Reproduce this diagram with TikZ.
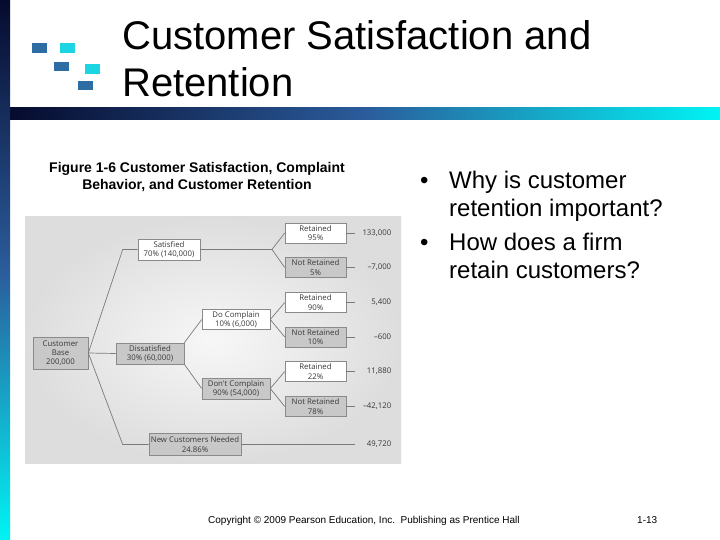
\documentclass[tikz,border=0pt]{standalone}
\usepackage{fontspec}
\setmainfont{Liberation Sans}
\newfontfamily\figfont{Open Sans}
\definecolor{navy}{HTML}{060B2E}
\definecolor{midblue}{HTML}{2B5C9B}
\definecolor{cyanbar}{HTML}{00F4F4}
\definecolor{sqdark}{HTML}{2E6DA4}
\definecolor{sqcyan}{HTML}{1BD5E2}
\definecolor{boxgray}{HTML}{C8C8C8}
\definecolor{boxline}{HTML}{8A8A8A}
\definecolor{linegray}{HTML}{7A7A7A}
\definecolor{figtext}{HTML}{383838}
\definecolor{bgout}{HTML}{DDDDDD}
\definecolor{bgin}{HTML}{F7F7F7}
\tikzset{
  treebox/.style={draw=boxline, line width=0.6pt, rectangle, align=center,
    font=\figfont\fontsize{7.8}{9.3}\selectfont, text=figtext, inner sep=0pt},
  graybox/.style={treebox, fill=boxgray},
  whitebox/.style={treebox, fill=white},
  leafbox/.style={minimum width=61pt, minimum height=20pt},
  branch/.style={draw=linegray, line width=0.7pt},
  valtext/.style={anchor=west, text width=34pt, align=right, inner xsep=2pt,
    inner ysep=0pt, font=\figfont\fontsize{7.8}{9.3}\selectfont, text=figtext},
  sqbox/.style={minimum width=15pt, minimum height=9.5pt, inner sep=0pt, anchor=north west},
  titletext/.style={anchor=base west, inner sep=0pt, font=\fontsize{40}{47}\selectfont},
  captext/.style={anchor=base, inner sep=0pt, font=\bfseries\fontsize{14}{16}\selectfont},
  bullettext/.style={anchor=base west, inner sep=0pt, font=\fontsize{24}{29}\selectfont},
  foottext/.style={anchor=base west, inner sep=0pt, font=\fontsize{10}{12}\selectfont},
}
\begin{document}
\begin{tikzpicture}[x=1pt,y=-1pt]
\useasboundingbox (0,0) rectangle (720,540);
\fill[white] (0,0) rectangle (720,540);
% decorative bars
\shade[left color=navy, right color=cyanbar, middle color=midblue] (10,108) rectangle (720,120);
\shade[top color=navy, bottom color=cyanbar, middle color=midblue] (0,0) rectangle (10,540);
% squares
\node[sqbox, fill=sqdark] (s1) at (32,43) {};
\node[sqbox, fill=sqcyan] (s2) at (60,43) {};
\node[sqbox, fill=sqdark] (s3) at (54,61.5) {};
\node[sqbox, fill=sqcyan] (s4) at (85,64) {};
\node[sqbox, fill=sqdark] (s5) at (78,80.5) {};
% title
\node[titletext] (t1) at (122,50) {Customer Satisfaction and};
\node[titletext] (t2) at (122,97) {Retention};
% caption
\node[captext] (c1) at (197,173) {Figure 1-6 Customer Satisfaction, Complaint};
\node[captext] (c2) at (197,190) {Behavior, and Customer Retention};
% figure background
\shade[inner color=bgin, outer color=bgout] (25,217) rectangle (401,463);
% tree nodes
\node[graybox, minimum width=55pt, minimum height=32pt] (base) at (60.5,353) {Customer\\Base\\200,000};
\node[whitebox, minimum width=62pt, minimum height=21pt] (sat) at (169,249.5) {Satisfied\\70\% (140,000)};
\node[graybox, minimum width=68pt, minimum height=21pt] (dis) at (150,353.5) {Dissatisfied\\30\% (60,000)};
\node[graybox, minimum width=92pt, minimum height=22pt] (newc) at (195,444.5) {New Customers Needed\\24.86\%};
\node[whitebox, minimum width=68pt, minimum height=20pt] (doc) at (236,319.5) {Do Complain\\10\% (6,000)};
\node[graybox, minimum width=68pt, minimum height=21pt] (dont) at (236,388.5) {Don't Complain\\90\% (54,000)};
\node[whitebox, leafbox] (r95) at (315.5,233) {Retained\\95\%};
\node[graybox, leafbox] (nr5) at (315.5,267.5) {Not Retained\\5\%};
\node[whitebox, leafbox] (r90) at (315.5,302.5) {Retained\\90\%};
\node[graybox, leafbox] (nr10) at (315.5,337) {Not Retained\\10\%};
\node[whitebox, leafbox] (r22) at (315.5,371.5) {Retained\\22\%};
\node[graybox, leafbox] (nr78) at (315.5,406.5) {Not Retained\\78\%};
% values
\node[valtext] (v1) at (355,233) {133,000};
\node[valtext] (v2) at (355,267.5) {–7,000};
\node[valtext] (v3) at (355,302.5) {5,400};
\node[valtext] (v4) at (355,337) {–600};
\node[valtext] (v5) at (355,371.5) {11,880};
\node[valtext] (v6) at (355,406.5) {–42,120};
\node[valtext] (v7) at (355,444.5) {49,720};
% connectors
\coordinate (sj) at (272,249.5);
\draw[branch] (base.east) -- ([xshift=-15pt]sat.west) -- (sat.west);
\draw[branch] (base.east) -- (dis.west);
\draw[branch] (base.east) -- ([xshift=-26pt]newc.west) -- (newc.west);
\draw[branch] (sat.east) -- (sj) -- (r95.west);
\draw[branch] (sj) -- (nr5.west);
\draw[branch] (dis.north east) -- (doc.west);
\draw[branch] (dis.south east) -- (dont.west);
\draw[branch] (doc.east) -- (r90.west);
\draw[branch] (doc.east) -- (nr10.west);
\draw[branch] (dont.east) -- (r22.west);
\draw[branch] (dont.east) -- (nr78.west);
\draw[branch] (r95.east) -- (v1.west);
\draw[branch] (nr5.east) -- (v2.west);
\draw[branch] (r90.east) -- (v3.west);
\draw[branch] (nr10.east) -- (v4.west);
\draw[branch] (r22.east) -- (v5.west);
\draw[branch] (nr78.east) -- (v6.west);
\draw[branch] (newc.east) -- (v7.west);
% bullets
\node[bullettext] (b1) at (420,189) {•};
\node[bullettext] (l1) at (449,189) {Why is customer};
\node[bullettext] (l2) at (449,217) {retention important?};
\node[bullettext] (b2) at (420,250) {•};
\node[bullettext] (l3) at (449,250) {How does a firm};
\node[bullettext] (l4) at (449,278) {retain customers?};
% footer
\node[foottext] (f1) at (208,523) {Copyright © 2009 Pearson Education, Inc.\ \ Publishing as Prentice Hall};
\node[foottext] (f2) at (637,523) {1-13};
\end{tikzpicture}
\end{document}
